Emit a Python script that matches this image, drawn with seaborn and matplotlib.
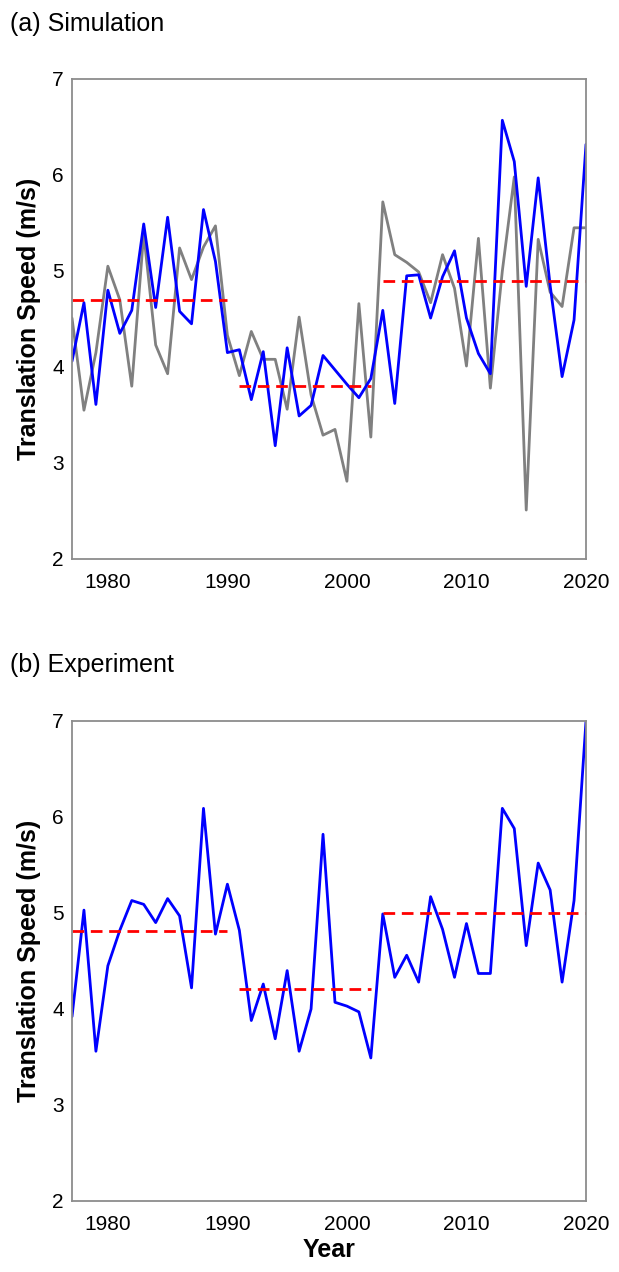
import matplotlib
matplotlib.use('Agg')
import matplotlib.pyplot as plt
from matplotlib import font_manager
import pandas as pd
import seaborn as sns

# years 1977-2020
years = list(range(1977, 2021))

# (a) Simulation: blue and gray series
sim_blue = [4.06, 4.67, 3.61, 4.80, 4.35, 4.59, 5.49, 4.62, 5.56, 4.58,
            4.45, 5.64, 5.10, 4.15, 4.18, 3.66, 4.16, 3.18, 4.20, 3.49,
            3.60, 4.12, 3.97, 3.82, 3.68, 3.88, 4.59, 3.62, 4.95, 4.96,
            4.51, 4.94, 5.21, 4.51, 4.14, 3.93, 6.57, 6.14, 4.84, 5.97,
            4.85, 3.90, 4.49, 6.32]
sim_gray = [4.51, 3.55, 4.15, 5.05, 4.70, 3.80, 5.39, 4.23, 3.93, 5.24,
            4.91, 5.25, 5.47, 4.33, 3.91, 4.37, 4.08, 4.08, 3.56, 4.52,
            3.71, 3.29, 3.35, 2.81, 4.66, 3.27, 5.72, 5.17, 5.09, 4.99,
            4.67, 5.17, 4.82, 4.01, 5.34, 3.78, 5.00, 5.98, 2.51, 5.33,
            4.78, 4.63, 5.45, 5.45]

# (b) Experiment
exp_blue = [3.92, 5.03, 3.56, 4.45, 4.82, 5.13, 5.09, 4.90, 5.15, 4.97,
            4.22, 6.09, 4.78, 5.30, 4.82, 3.88, 4.26, 3.69, 4.40, 3.56,
            4.00, 5.82, 4.07, 4.03, 3.97, 3.49, 4.99, 4.33, 4.56, 4.28,
            5.17, 4.83, 4.33, 4.89, 4.37, 4.37, 6.09, 5.88, 4.66, 5.52,
            5.24, 4.28, 5.13, 7.00]

# period means (red dashed)
period_start = [1977, 1991, 2003]
period_end = [1990, 2002, 2020]
sim_means = [4.70, 3.80, 4.90]
exp_means = [4.81, 4.21, 5.00]

sns.set_style('white')
plt.rcParams['font.family'] = ['Liberation Sans', 'DejaVu Sans']
plt.rcParams['text.color'] = 'black'
plt.rcParams['axes.labelcolor'] = 'black'
plt.rcParams['xtick.color'] = 'black'
plt.rcParams['ytick.color'] = 'black'

# narrow face for the light text if it is installed
names = {f.name for f in font_manager.fontManager.ttflist}
if 'Liberation Sans Narrow' in names:
    light = ['Liberation Sans Narrow', 'DejaVu Sans']
    tick_size, title_size = 17.5, 21
else:
    light = ['Liberation Sans', 'DejaVu Sans']
    tick_size, title_size = 15, 18

fig = plt.figure(figsize=(6.19, 12.72), dpi=100)
ax_a = fig.add_axes([72 / 619, 1 - 559 / 1272, 514 / 619, 480 / 1272])
ax_b = fig.add_axes([72 / 619, 1 - 1201 / 1272, 514 / 619, 480 / 1272])


def draw_panel(ax, series, colors, means):
    df = pd.DataFrame({'year': years})
    for s, c in zip(series, colors):
        df['v'] = s
        sns.lineplot(data=df, x='year', y='v', color=c, linewidth=2.0,
                     errorbar=None, ax=ax)
    for x0, x1, m in zip(period_start, period_end, means):
        seg = pd.DataFrame({'year': [x0, x1], 'v': [m, m]})
        sns.lineplot(data=seg, x='year', y='v', color='#ff0000', linewidth=2.0,
                     linestyle=(0, (4.2, 2.4)), errorbar=None, ax=ax)
    ax.set_xlim(1977, 2020)
    ax.set_ylim(2, 7)
    ax.set_xticks([1980, 1990, 2000, 2010, 2020])
    ax.set_yticks([2, 3, 4, 5, 6, 7])
    ax.tick_params(axis='both', length=0)
    ax.tick_params(axis='x', pad=10)
    ax.tick_params(axis='y', pad=6)
    for lab in ax.get_xticklabels() + ax.get_yticklabels():
        lab.set_family(light)
        lab.set_fontsize(tick_size)
    for sp in ax.spines.values():
        sp.set_color('#8c8c8c')
        sp.set_linewidth(1.3)
    ax.set_ylabel('Translation Speed (m/s)', fontsize=18, fontweight='bold',
                  labelpad=8)
    ax.set_xlabel('')


draw_panel(ax_a, [sim_gray, sim_blue], ['#808080', '#0000ff'], sim_means)
draw_panel(ax_b, [exp_blue], ['#0000ff'], exp_means)
ax_b.set_xlabel('Year', fontsize=18, fontweight='bold', labelpad=3)

fig.text(10 / 619, 1 - 24 / 1272, '(a) Simulation', fontsize=title_size,
         family=light, va='center', ha='left')
fig.text(10 / 619, 1 - 665 / 1272, '(b) Experiment', fontsize=title_size,
         family=light, va='center', ha='left')

fig.savefig('out.png', dpi=100)
